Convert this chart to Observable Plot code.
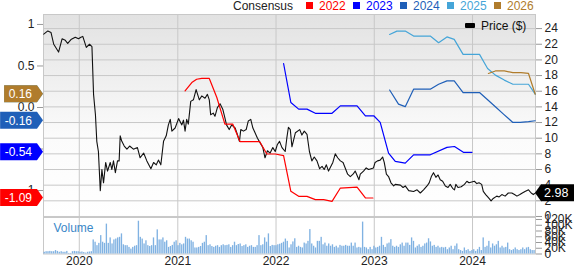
<!DOCTYPE html>
<html><head><meta charset="utf-8">
<script src="https://cdn.jsdelivr.net/npm/d3@7"></script>
<script src="https://cdn.jsdelivr.net/npm/@observablehq/plot@0.6"></script>
<style>
body{margin:0;background:#fff;}
#chart{position:relative;width:574px;height:265px;overflow:hidden;font-family:Arial,"Liberation Sans",sans-serif;}
#chart svg{position:absolute;left:0;top:0;}
</style></head><body><div id="chart"></div>
<script>
// ---------- data ----------
const priceDates = ["2019-08-22","2019-09-06","2019-09-18","2019-09-28","2019-10-16","2019-10-29","2019-11-10","2019-11-19","2019-12-01","2019-12-17","2019-12-29","2020-01-07","2020-01-14","2020-01-27","2020-02-08","2020-02-17","2020-02-23","2020-03-01","2020-03-06","2020-03-12","2020-03-19","2020-03-25","2020-03-31","2020-04-08","2020-04-15","2020-04-25","2020-05-01","2020-05-07","2020-05-14","2020-05-22","2020-05-28","2020-06-01","2020-06-07","2020-06-16","2020-06-26","2020-07-06","2020-07-20","2020-08-04","2020-08-14","2020-08-27","2020-09-08","2020-09-23","2020-10-03","2020-10-13","2020-10-21","2020-10-30","2020-11-09","2020-11-19","2020-11-27","2020-12-04","2020-12-10","2020-12-22","2021-01-04","2021-01-16","2021-01-22","2021-01-28","2021-02-03","2021-02-09","2021-02-18","2021-02-28","2021-03-10","2021-03-22","2021-03-31","2021-04-12","2021-04-21","2021-04-28","2021-05-03","2021-05-13","2021-05-19","2021-05-28","2021-06-07","2021-06-17","2021-06-25","2021-07-01","2021-07-11","2021-07-20","2021-08-02","2021-08-10","2021-08-18","2021-08-23","2021-09-02","2021-09-12","2021-09-20","2021-09-29","2021-10-07","2021-10-15","2021-10-24","2021-11-03","2021-11-13","2021-11-21","2021-11-30","2021-12-10","2021-12-20","2021-12-29","2022-01-06","2022-01-14","2022-01-23","2022-02-04","2022-02-10","2022-02-16","2022-02-23","2022-03-01","2022-03-14","2022-03-30","2022-04-07","2022-04-16","2022-04-26","2022-05-05","2022-05-14","2022-05-23","2022-06-02","2022-06-12","2022-06-21","2022-06-29","2022-07-07","2022-07-15","2022-07-31","2022-08-09","2022-08-18","2022-08-28","2022-09-07","2022-09-15","2022-09-24","2022-10-04","2022-10-14","2022-10-22","2022-11-05","2022-11-10","2022-11-22","2022-12-02","2022-12-11","2022-12-20","2022-12-29","2023-01-04","2023-01-13","2023-01-23","2023-02-01","2023-02-07","2023-02-15","2023-02-23","2023-03-04","2023-03-14","2023-03-20","2023-04-08","2023-04-18","2023-04-26","2023-05-09","2023-05-27","2023-06-09","2023-06-21","2023-07-03","2023-07-16","2023-07-24","2023-08-01","2023-08-09","2023-08-18","2023-08-26","2023-09-03","2023-09-12","2023-09-22","2023-10-02","2023-10-10","2023-10-19","2023-10-26","2023-10-31","2023-11-08","2023-11-20","2023-12-02","2023-12-11","2023-12-19","2024-01-08","2024-01-17","2024-01-25","2024-02-04","2024-02-10","2024-02-19","2024-02-29","2024-03-10","2024-03-18","2024-03-31","2024-04-09","2024-04-19","2024-05-01","2024-05-13","2024-05-26","2024-06-05","2024-06-14","2024-06-25","2024-07-04","2024-07-14","2024-07-27","2024-08-06","2024-08-14","2024-08-21"];
const priceValues = [23.3,23.7,23.5,22.0,21.0,22.7,22.5,22.1,22.6,22.9,22.7,22.9,23.0,21.6,22.0,21.7,15.6,13.0,9.6,8.3,3.3,6.0,4.3,6.9,5.8,6.9,6.0,7.1,5.6,7.1,7.1,10.3,9.6,9.0,8.6,9.0,8.6,8.8,7.5,8.1,7.1,6.1,6.9,6.6,7.2,6.6,9.6,10.3,11.7,12.4,10.9,11.3,12.5,11.7,12.3,10.9,12.4,11.8,14.7,14.9,16.2,14.9,15.4,15.1,15.6,14.9,13.0,13.2,12.8,13.9,14.4,13.7,12.6,11.7,11.1,11.7,11.3,10.5,9.6,11.1,10.9,11.1,12.2,12.4,11.3,10.7,10.0,9.4,8.8,7.5,8.4,8.1,8.8,8.3,9.2,9.6,8.8,8.3,10.0,11.4,11.1,8.9,10.7,11.1,10.4,10.9,10.5,8.3,7.1,7.6,7.1,6.1,6.4,6.0,6.6,5.8,6.9,8.0,7.5,7.1,6.9,6.2,5.4,5.1,5.4,5.8,4.7,5.4,5.8,6.2,6.0,6.1,6.2,6.9,7.1,7.2,7.6,6.9,5.4,5.1,4.3,3.9,4.1,4.0,3.7,3.9,3.3,3.2,3.4,3.0,3.4,3.9,4.3,5.1,5.6,5.0,5.3,4.7,4.5,3.9,3.7,4.1,3.6,3.4,4.1,3.7,3.8,4.1,4.5,4.3,4.5,4.2,4.3,4.1,3.2,2.8,2.4,2.0,2.3,2.6,2.5,2.8,2.6,3.0,3.0,2.8,2.6,2.8,3.0,3.2,3.4,3.0,2.8,2.98];

const eps2022Dates = ["2021-01-28","2021-02-22","2021-03-12","2021-03-31","2021-04-28","2021-05-26","2021-06-25","2021-07-24","2021-08-20","2021-09-20","2021-11-01","2021-11-28","2021-12-29","2022-01-29","2022-02-25","2022-03-26","2022-04-26","2022-05-27","2022-06-27","2022-07-28","2022-08-28","2022-10-29","2022-11-29","2022-12-27"];
const eps2022Values = [0.20,0.30,0.34,0.35,0.35,0.12,-0.20,-0.20,-0.41,-0.41,-0.41,-0.56,-0.56,-0.58,-1.01,-1.07,-1.07,-1.11,-1.11,-1.13,-0.97,-0.96,-1.09,-1.09];
const eps2023Dates = ["2022-01-29","2022-02-25","2022-03-26","2022-04-26","2022-05-27","2022-07-28","2022-08-28","2022-10-29","2022-11-29","2022-12-30","2023-01-23","2023-02-23","2023-03-20","2023-04-26","2023-05-27","2023-07-28","2023-09-28","2023-10-26","2023-11-28","2023-12-30"];
const eps2023Values = [0.53,0.06,-0.02,-0.02,-0.07,-0.07,0.02,0.02,-0.10,-0.10,-0.18,-0.55,-0.65,-0.67,-0.57,-0.57,-0.48,-0.47,-0.54,-0.54];
const eps2024Dates = ["2023-02-27","2023-04-01","2023-04-26","2023-05-27","2023-07-28","2023-08-28","2023-09-28","2023-10-25","2023-11-27","2023-12-26","2024-01-27","2024-02-24","2024-03-29","2024-04-25","2024-05-30","2024-06-26","2024-07-27","2024-08-21"];
const eps2024Values = [0.21,0.04,0.01,0.22,0.22,0.28,0.32,0.32,0.18,0.18,0.18,0.10,0.00,-0.08,-0.18,-0.18,-0.17,-0.16];
const eps2025Dates = ["2023-02-27","2023-03-26","2023-04-26","2023-05-27","2023-07-28","2023-08-28","2023-09-28","2023-10-25","2023-11-27","2023-12-26","2024-01-27","2024-02-26","2024-03-26","2024-04-28","2024-05-30","2024-06-29","2024-07-27","2024-08-21"];
const eps2025Values = [0.88,0.92,0.92,0.86,0.86,0.78,0.85,0.82,0.64,0.64,0.64,0.47,0.39,0.33,0.28,0.28,0.28,0.16];
const eps2026Dates = ["2024-02-29","2024-03-26","2024-04-28","2024-05-30","2024-06-29","2024-07-27","2024-08-21"];
const eps2026Values = [0.41,0.44,0.44,0.42,0.42,0.41,0.16];

const volumeStart = "2019-08-23"; // weekly bars
const volumeK = [6,8,8,9,8,8,12,9,6,8,6,6,9,2,2,8,9,8,8,6,7,5,3,6,7,8,
49,41,29,37,64,41,37,104,37,56,35,49,52,56,58,70,32,29,29,23,17,23,27,29,114,58,52,35,46,29,26,29,56,29,84,49,49,56,41,46,23,26,30,41,46,29,37,32,35,58,52,52,46,41,21,21,23,26,37,41,64,29,32,26,23,27,29,23,29,32,29,30,32,23,29,41,29,33,35,26,29,32,23,27,29,23,23,29,64,29,32,56,41,70,26,30,29,29,32,34,37,41,52,44,
21,32,42,53,23,27,23,21,38,35,44,85,35,27,21,44,44,58,32,38,27,35,27,32,23,27,21,30,27,27,30,27,27,38,27,38,21,23,21,111,23,21,15,23,15,27,21,23,27,58,30,23,35,38,50,27,23,27,23,32,38,27,38,38,30,56,44,21,27,32,23,27,35,38,53,42,27,30,23,27,21,23,21,23,15,21,27,15,27,35,15,12,9,21,12,15,9,12,15,9,15,23,12,56,23,27,44,21,35,27,32,44,21,27,21,23,38,15,12,15,21,15,12,15,21,15,21,23,15,12,12];

const yearTicks = ["2020-01-01","2021-01-01","2022-01-01","2023-01-01","2024-01-01"];
const priceTicks = [0,2,4,6,8,10,12,14,16,18,20,22,24];
const epsTicks = [1,0.5,0,-0.5,-1];
const epsTickLabels = ["1","0.5","0.0","-0.5","-1"];
const volTicks = [0,20,40,60,80,100,120];
const volTickLabels = ["0","20K","40K","60K","80K","100K","120K"];
const seriesNames = ["2022","2023","2024","2025","2026"];
const seriesColors = ["#ff0000","#0000ff","#1f5fb8","#45a5d8","#b07c2c"];
const lastPriceLabel = "2.98";

// ---------- build ----------
const W = 574, H = 265, ML = 43, MR = 39;
const font = 'Arial, "Liberation Sans", sans-serif';
const xDomain = [new Date("2019-08-21"), new Date("2024-08-22")];
const years = yearTicks.map(d => new Date(d));
const style = {background: "transparent", fontFamily: font, fontSize: "12px", color: "#222", overflow: "visible"};

const price = priceDates.map((d, i) => ({date: new Date(d), value: priceValues[i]}));
const epsDates = [eps2022Dates, eps2023Dates, eps2024Dates, eps2025Dates, eps2026Dates];
const epsValues = [eps2022Values, eps2023Values, eps2024Values, eps2025Values, eps2026Values];
const series = seriesNames.map((name, k) => ({
  name, color: seriesColors[k],
  data: epsDates[k].map((d, i) => ({date: new Date(d), value: epsValues[k][i]}))
}));
const t0 = new Date(volumeStart).getTime();
const vol = volumeK.map((v, i) => ({date: new Date(t0 + i * 7 * 864e5), end: new Date(t0 + (i * 7 + 5) * 864e5), v}));

const priceChart = Plot.plot({
  width: W, height: H, marginLeft: ML, marginRight: MR, marginTop: 14, marginBottom: 48, style,
  x: {type: "utc", domain: xDomain, axis: null},
  y: {domain: [-0.13, 25.8], axis: null},
  marks: [
    Plot.frame({fill: "#eeeeee", stroke: "none"}),
    Plot.gridY(priceTicks, {stroke: "#c8c8c8", strokeOpacity: 1}),
    Plot.gridX(years, {stroke: "#c8c8c8", strokeOpacity: 1}),
    Plot.frame({stroke: "#c8c8c8"}),
    Plot.axisY(priceTicks, {anchor: "right", tickSize: 6, tickPadding: 3, stroke: "#999", fill: "#222", tickFormat: d => String(d), label: null}),
    Plot.line(price, {x: "date", y: "value", stroke: "#111", strokeWidth: 1.1})
  ]
});
d3.select(priceChart).insert("defs", ":first-child").html(
  '<linearGradient id="bgGrad" x1="0" y1="0" x2="0" y2="1">' +
  '<stop offset="0" stop-color="#e2e2e2"/><stop offset="0.6" stop-color="#fbfbfb"/><stop offset="1" stop-color="#ffffff"/></linearGradient>');
priceChart.querySelectorAll('[fill="#eeeeee"]').forEach(el => el.setAttribute("fill", "url(#bgGrad)"));

const epsChart = Plot.plot({
  width: W, height: H, marginLeft: ML, marginRight: MR, marginTop: 14, marginBottom: 48, style,
  x: {type: "utc", domain: xDomain, axis: null},
  y: {domain: [-1.325, 1.12], axis: null},
  marks: [
    Plot.axisY(epsTicks, {anchor: "left", tickSize: 6, tickPadding: 3, stroke: "#999", fill: "#222", tickFormat: d => epsTickLabels[epsTicks.indexOf(d)], label: null}),
    ...series.map(s => Plot.line(s.data, {x: "date", y: "value", stroke: s.color, strokeWidth: 1.2}))
  ]
});

const volChart = Plot.plot({
  width: W, height: H, marginLeft: ML, marginRight: MR, marginTop: 217, marginBottom: 11.5, style,
  x: {type: "utc", domain: xDomain, axis: null},
  y: {domain: [0, 127], axis: null},
  marks: [
    Plot.frame({fill: "#fff", stroke: "#c8c8c8"}),
    Plot.gridX(years, {stroke: "#c8c8c8", strokeOpacity: 1}),
    Plot.rectY(vol, {x1: "date", x2: "end", y: "v", fill: "#80b2e2"}),
    Plot.axisY(volTicks, {anchor: "right", tickSize: 6, tickPadding: 3, stroke: "#999", fill: "#222", tickFormat: d => volTickLabels[volTicks.indexOf(d)], label: null}),
    Plot.axisX(years, {anchor: "bottom", tickSize: 0, tickPadding: 2, fill: "#222", tickFormat: d3.utcFormat("%Y"), label: null}),
    Plot.text(["Volume"], {text: d => d, frameAnchor: "top-left", dx: 10, dy: 6, fill: "#3a87c8", fontSize: 12})
  ]
});

const root = document.getElementById("chart");
root.append(priceChart, epsChart, volChart);

// overlay: legends and value badges
const ov = d3.select(root).append("svg").attr("width", W).attr("height", H)
  .style("font-family", font).style("font-size", "12px");

ov.append("text").attr("x", 233).attr("y", 9.5).attr("fill", "#222").text("Consensus");
series.forEach((s, k) => {
  const x0 = 306 + k * 47;
  ov.append("rect").attr("x", x0).attr("y", 2).attr("width", 7).attr("height", 7).attr("fill", s.color);
  ov.append("text").attr("x", x0 + 13).attr("y", 9.5).attr("fill", s.color).text(s.name);
});
ov.append("rect").attr("x", 465).attr("y", 23).attr("width", 10).attr("height", 5).attr("rx", 1).attr("fill", "#000");
ov.append("text").attr("x", 481).attr("y", 29.5).attr("fill", "#111").text("Price ($)");

const yEps = epsChart.scale("y");
series.forEach(s => {
  const last = s.data[s.data.length - 1].value;
  const cy = yEps.apply(last);
  const g = ov.append("g");
  const path = g.append("path").attr("fill", s.color);
  const t = g.append("text").attr("x", 32).attr("y", cy + 4.3).attr("text-anchor", "end").attr("fill", "#fff").text(last.toFixed(2));
  const tw = t.node().getComputedTextLength();
  const left = 32 - tw - 4.5;
  path.attr("d", `M${left},${cy - 8.5}H37L43,${cy}L37,${cy + 8.5}H${left}Z`);
});

const yPrice = priceChart.scale("y");
const py = yPrice.apply(priceValues[priceValues.length - 1]);
ov.append("path").attr("fill", "#000").attr("d", `M535,${py}L541,${py - 8.5}H576V${py + 8.5}H541Z`);
ov.append("text").attr("x", 544).attr("y", py + 4.5).attr("fill", "#fff").style("font-size", "12.5px").text(lastPriceLabel);
</script>
</body></html>
